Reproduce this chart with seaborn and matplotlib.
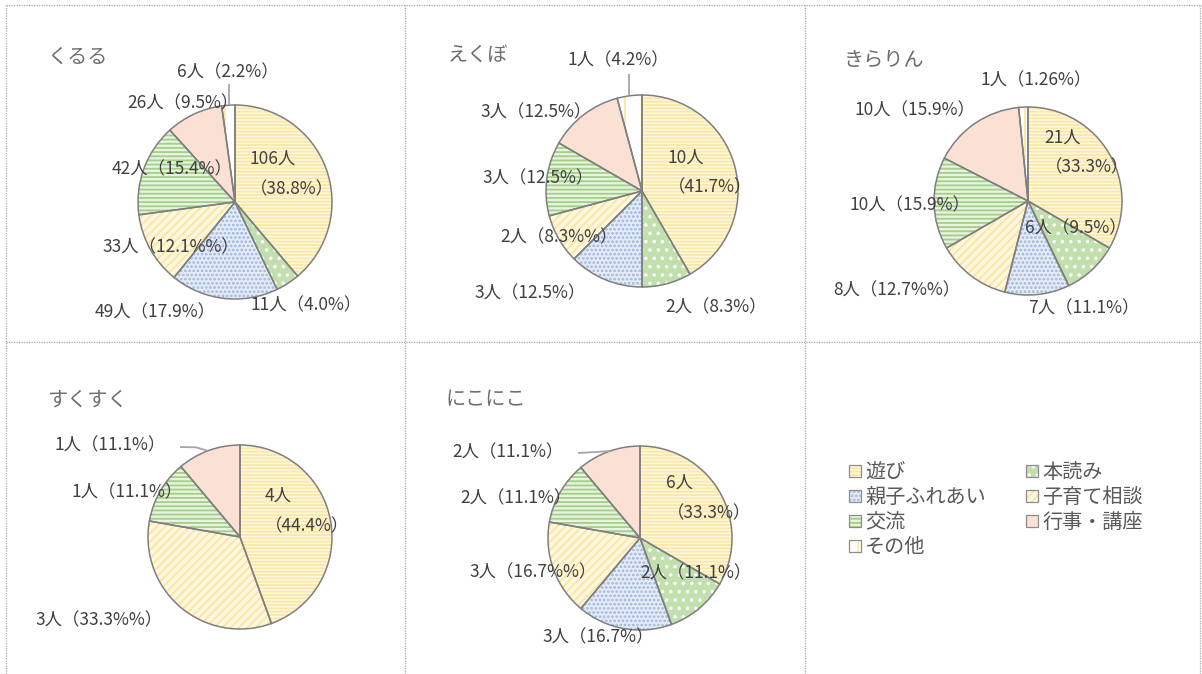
import numpy as np
import pandas as pd
import matplotlib.pyplot as plt
import seaborn as sns
from matplotlib.lines import Line2D
from matplotlib.patches import Patch

sns.set_theme(style='white')
plt.rcParams['font.family'] = ['Noto Sans CJK JP', 'DejaVu Sans']
plt.rcParams['hatch.linewidth'] = 1.3

W, H = 1202, 674

# categories (clockwise order in every pie)
categories = ['遊び', '本読み', '親子ふれあい', '子育て相談', '交流', '行事・講座', 'その他']
legend_order = ['遊び', '親子ふれあい', '交流', 'その他', '本読み', '子育て相談', '行事・講座']

# counts per centre
kururu = [106, 11, 49, 33, 42, 26, 6]
ekubo = [10, 2, 3, 2, 3, 3, 1]
kirarin = [21, 6, 7, 8, 10, 10, 1]
sukusuku = [4, 0, 0, 3, 1, 1, 0]
nikoniko = [6, 2, 3, 3, 2, 2, 0]

# data labels as printed in the original
kururu_labels = ['106人\n（38.8%）', '11人（4.0%）', '49人（17.9%）', '33人（12.1%%）',
                 '42人（15.4%）', '26人（9.5%）', '6人（2.2%）']
ekubo_labels = ['10人\n（41.7%）', '2人（8.3%）', '3人（12.5%）', '2人（8.3%%）',
                '3人（12.5%）', '3人（12.5%）', '1人（4.2%）']
kirarin_labels = ['21人\n（33.3%）', '6人（9.5%）', '7人（11.1%）', '8人（12.7%%）',
                  '10人（15.9%）', '10人（15.9%）', '1人（1.26%）']
sukusuku_labels = ['4人\n（44.4%）', None, None, '3人（33.3%%）',
                   '1人（11.1%）', '1人（11.1%）', None]
nikoniko_labels = ['6人\n（33.3%）', '2人（11.1%）', '3人（16.7%）', '3人（16.7%%）',
                   '2人（11.1%）', '2人（11.1%）', None]

# styling of each category: face colour, hatch colour, hatch
face = ['#FFF8E2', '#C2DFAE', '#E6ECF7', '#FFF7DE', '#E8F3E0', '#FBE1D3', '#FFFFFF']
hatch_col = ['#FBE7A6', '#FFFFFF', '#9EB5DE', '#FBE5A2', '#A3CF88', '#FBE1D3', '#FCE7A6']
hatches = ['-----', '..', '....', '////', '----', '', '|']

# layout: pie centre and radius in pixels, title position
layout = [
    dict(title='くるる', cx=235, cy=202, r=97, tx=47, ty=57),
    dict(title='えくぼ', cx=642, cy=191, r=96, tx=448, ty=55),
    dict(title='きらりん', cx=1028, cy=201, r=94, tx=844, ty=60),
    dict(title='すくすく', cx=240, cy=537, r=92, tx=47, ty=400),
    dict(title='にこにこ', cx=640, cy=538, r=92, tx=446, ty=400),
]
counts = [kururu, ekubo, kirarin, sukusuku, nikoniko]
labels = [kururu_labels, ekubo_labels, kirarin_labels, sukusuku_labels, nikoniko_labels]

# label anchors in pie-radius units (first one is left anchor of the two-line label)
label_pos = [
    [(0.150, 0.289), (0.732, -1.062), (-0.825, -1.134), (-0.660, -0.464),
     (-0.649, 0.340), (-0.536, 1.021), (-0.072, 1.340)],
    [(0.266, 0.193), (0.771, -1.208), (-1.167, -1.062), (-0.865, -0.479),
     (-1.083, 0.135), (-1.104, 0.823), (-0.250, 1.365)],
    [(0.176, 0.516), (0.511, -0.287), (0.596, -1.138), (-1.394, -0.947),
     (-1.255, -0.043), (-1.202, 0.968), (0.085, 1.287)],
    [(0.267, 0.283), None, None, (-1.533, -0.902),
     (-1.228, 0.489), (-1.413, 1.000), None],
    [(0.288, 0.435), (0.609, -0.380), (-0.457, -1.076), (-1.163, -0.370),
     (-1.348, 0.435), (-1.435, 0.935), None],
]
leaders = [
    [(-0.062, 1.216), (-0.062, 0.995)],
    [(-0.135, 1.219), (-0.135, 0.995)],
    None,
    [(-0.652, 0.978), (-0.48, 0.975), (-0.36, 0.94)],
    [(-0.674, 0.924), (-0.48, 0.935), (-0.33, 0.945)],
]

fig = plt.figure(figsize=(W / 100, H / 100), dpi=100)
pad = 1.03

for lay, cnt, labs, pos, lead in zip(layout, counts, labels, label_pos, leaders):
    cx, cy, r = lay['cx'], lay['cy'], lay['r']
    ax = fig.add_axes([(cx - r * pad) / W, 1 - (cy + r * pad) / H, 2 * r * pad / W, 2 * r * pad / H])
    keep = [i for i, v in enumerate(cnt) if v > 0]
    vals = [cnt[i] for i in keep]
    wedges, _ = ax.pie(vals, startangle=90, counterclock=False, radius=1,
                       wedgeprops=dict(linewidth=0))
    for w, i in zip(wedges, keep):
        w.set_facecolor(face[i])
        w.set_edgecolor(hatch_col[i])
        w.set_hatch(hatches[i])
    ax.pie(vals, startangle=90, counterclock=False, radius=1,
           wedgeprops=dict(fill=False, edgecolor='#7F7F7F', linewidth=1.1))
    ax.set_xlim(-pad, pad)
    ax.set_ylim(-pad, pad)
    ax.axis('off')

    for lab, p in zip(labs, pos):
        if lab is None:
            continue
        if '\n' in lab:
            ax.text(p[0], p[1], lab, ha='left', va='center', multialignment='left',
                    linespacing=1.85, fontsize=12.5, color='#404040')
        else:
            ax.text(p[0], p[1], lab, ha='center', va='center', fontsize=12.5, color='#404040')
    if lead is not None:
        ax.plot([q[0] for q in lead], [q[1] for q in lead], color='#A6A6A6', lw=1.3,
                clip_on=False, solid_capstyle='butt')

    fig.text(lay['tx'] / W, 1 - lay['ty'] / H, lay['title'], ha='left', va='center',
             fontsize=14.5, color='#6E6E6E')

# legend
handles = []
for name in legend_order:
    i = categories.index(name)
    handles.append((Patch(facecolor=face[i], edgecolor=hatch_col[i], hatch=hatches[i], lw=0),
                    Patch(fill=False, edgecolor='#8C8C8C', lw=0.9)))
fig.legend(handles, legend_order, loc='upper left', bbox_to_anchor=(849 / W, 1 - 462 / H),
           ncol=2, frameon=False, fontsize=14.5, handlelength=0.6, handleheight=0.6,
           handletextpad=0.2, columnspacing=2.0, labelspacing=0.2, borderpad=0,
           borderaxespad=0, labelcolor='#595959')

# dotted panel borders
border = dict(color='#A8A8A8', lw=0.9, ls=(0, (1, 1)), transform=fig.transFigure)
for x in [6, 405, 805, 1200]:
    fig.add_artist(Line2D([x / W, x / W], [1 - 5 / H, 0], **border))
for y in [5, 342]:
    fig.add_artist(Line2D([6 / W, 1200 / W], [1 - y / H, 1 - y / H], **border))

fig.savefig('out.png', dpi=100)
